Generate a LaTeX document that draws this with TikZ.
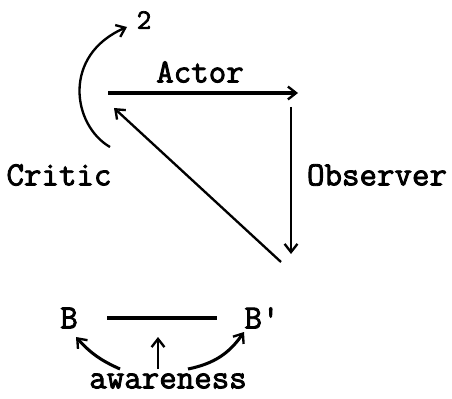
\documentclass[tikz,border=0pt]{standalone}
\usepackage{fontspec}
\newfontfamily\rolefont{Latin Modern Mono}[FakeBold=2.5]
\usetikzlibrary{arrows.meta}

\begin{document}
\begin{tikzpicture}[x=0.03cm, y=-0.03cm,
    lbl/.style={font=\fontsize{29}{31}\selectfont\rolefont, inner sep=0pt},
    arr/.style={-{Straight Barb[length=7pt, width=11pt, line width=2pt]}, line width=2pt}
]
\useasboundingbox (0,0) rectangle (452,399);
% triangle of roles
\coordinate (actS) at (108,93);
\coordinate (actE) at (298,93);
\coordinate (obsS) at (291,107);
\coordinate (obsE) at (291,254);
\coordinate (diagS) at (281,262);
\coordinate (diagE) at (114,108);
\coordinate (crS) at (110,147);
\coordinate (crE) at (127,27);
\node[lbl] (actor) at (200,72) {Actor};
\node[lbl] (observer) at (377,175) {Observer};
\node[lbl] (critic) at (59,175) {Critic};
\node[lbl, font=\fontsize{24}{26}\selectfont\rolefont] (two) at (144,20) {2};
\draw[arr, line width=2.6pt] (actS) -- (actE);
\draw[arr, line width=1.5pt] (obsS) -- (obsE);
\draw[arr] (diagS) -- (diagE);
\draw[arr] (crS) .. controls (72,125) and (62,55) .. (crE);
% awareness
\node[lbl] (b) at (69,318) {B};
\node[lbl] (bp) at (262,318) {B'};
\node[lbl] (aware) at (168,381) {awareness};
\coordinate (lnS) at (107,318);
\coordinate (lnE) at (217,318);
\draw[line width=3pt] (lnS) -- (lnE);
\coordinate (awL) at (120,369);
\coordinate (awLt) at (76,337);
\coordinate (awM) at (158,369);
\coordinate (awMt) at (158,337);
\coordinate (awR) at (188,369);
\coordinate (awRt) at (244,332);
\draw[arr, line width=2.6pt] (awL) to[bend left=12] (awLt);
\draw[arr, line width=2.2pt] (awM) -- (awMt);
\draw[arr, line width=2.6pt] (awR) to[bend right=22] (awRt);
\end{tikzpicture}
\end{document}
